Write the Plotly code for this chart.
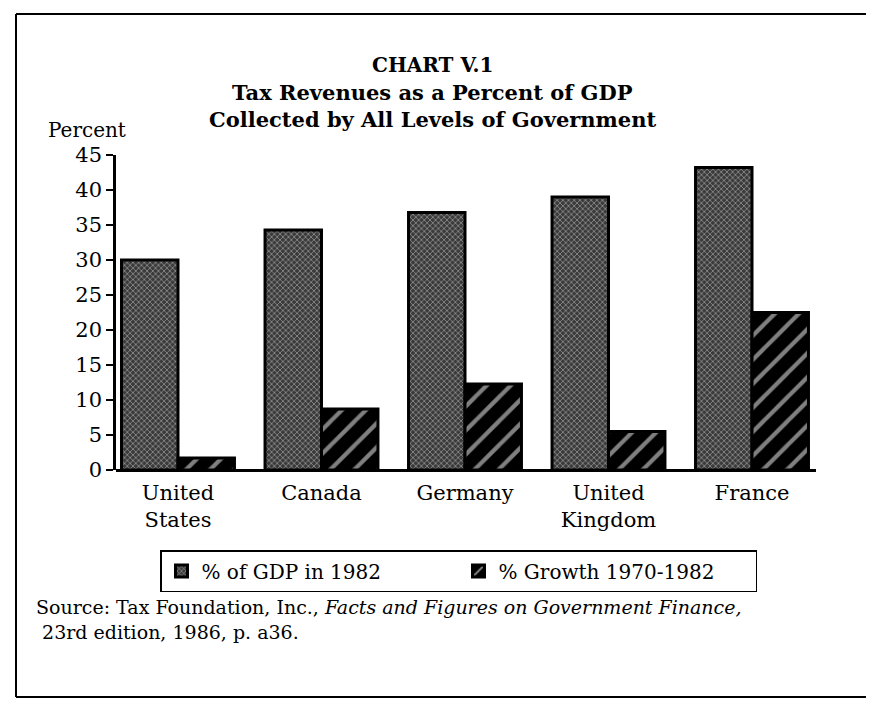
import plotly.graph_objects as go

countries = ["United<br>States", "Canada", "Germany", "United<br>Kingdom", "France"]
gdp_1982 = [30.0, 34.3, 36.8, 39.0, 43.2]
growth_1970_1982 = [1.7, 8.7, 12.3, 5.5, 22.5]
y_ticks = [0, 5, 10, 15, 20, 25, 30, 35, 40, 45]

FONT = "DejaVu Serif"
OFF = 8  # page body margin
W, H = 874 - OFF, 715 - OFF
L = 116 - OFF
T = 155 - OFF
B = H - (470 - OFF)
R = W - (816 - OFF)
PW, PH = W - L - R, H - T - B


def px(x):
    return (x - OFF - L) / PW


def py(y):
    return (H - B - (y - OFF)) / PH


fig = go.Figure()
fig.add_trace(go.Bar(
    x=countries, y=gdp_1982, name="% of GDP in 1982",
    marker=dict(color="#5a5a5a", line=dict(color="black", width=3),
                pattern=dict(shape="x", fgcolor="#eeeeee", bgcolor="#3a3a3a", size=4, solidity=0.35)),
))
fig.add_trace(go.Bar(
    x=countries, y=growth_1970_1982, name="% Growth 1970-1982",
    marker=dict(color="black", line=dict(color="black", width=3),
                pattern=dict(shape="/", fgcolor="white", bgcolor="black", size=17, solidity=0.25)),
))

fig.update_layout(
    width=W, height=H,
    paper_bgcolor="white", plot_bgcolor="white",
    margin=dict(l=L, r=R, t=T, b=B, autoexpand=False),
    barmode="group", bargap=0.213, bargroupgap=0,
    font=dict(family=FONT, color="black", size=21),
    showlegend=True,
    legend=dict(
        orientation="h", x=px(160), y=py(550), xanchor="left", yanchor="top",
        bordercolor="black", borderwidth=1.5, bgcolor="white",
        font=dict(family=FONT, size=20), entrywidth=252, itemwidth=30,
    ),
    xaxis=dict(showline=False, ticks="", tickfont=dict(size=21), ticklabelstandoff=8,
               zeroline=False, showgrid=False, range=[-0.432, 4.446]),
    yaxis=dict(range=[0, 45], tickvals=y_ticks, ticks="outside", ticklen=7,
               tickwidth=2, tickcolor="black", showline=True, linecolor="black",
               linewidth=2.5, showgrid=False, zeroline=True, zerolinecolor="black",
               zerolinewidth=2.5, tickfont=dict(size=21)),
)

title_lines = ["CHART V.1", "Tax Revenues as a Percent of GDP", "Collected by All Levels of Government"]
title_y = [65, 92, 120]
title_size = [20, 21, 21]
for txt, yy, fs in zip(title_lines, title_y, title_size):
    fig.add_annotation(text="<b>" + txt + "</b>", xref="paper", yref="paper", x=px(432), y=py(yy),
                       xanchor="center", yanchor="middle", showarrow=False,
                       font=dict(family=FONT, size=fs))

fig.add_annotation(text="Percent", xref="paper", yref="paper", x=px(46), y=py(130),
                   xanchor="left", yanchor="middle", showarrow=False,
                   font=dict(family=FONT, size=20))
fig.add_annotation(
    text="Source: Tax Foundation, Inc., <i>Facts and Figures on Government Finance,</i><br> 23rd edition, 1986, p. a36.",
    xref="paper", yref="paper", x=px(34), y=py(594), xanchor="left", yanchor="top",
    align="left", showarrow=False, font=dict(family=FONT, size=19))

frame = dict(color="black", width=2)
fig.add_shape(type="line", xref="paper", yref="paper", x0=px(16), x1=px(16), y0=py(697), y1=py(14), line=frame)
fig.add_shape(type="line", xref="paper", yref="paper", x0=px(16), x1=px(880), y0=py(14), y1=py(14), line=frame)
fig.add_shape(type="line", xref="paper", yref="paper", x0=px(16), x1=px(880), y0=py(697), y1=py(697), line=frame)

fig.write_html("out.html")
